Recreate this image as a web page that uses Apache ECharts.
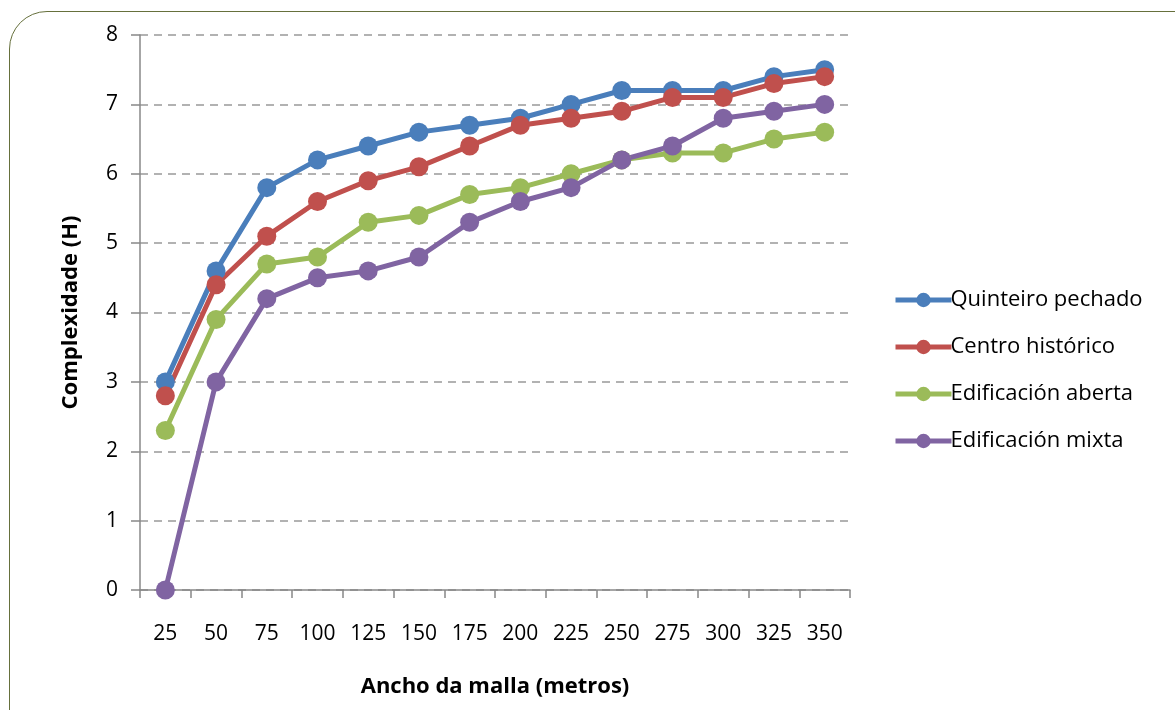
<!DOCTYPE html>
<html><head><meta charset="utf-8">
<script src="https://cdn.jsdelivr.net/npm/echarts@6/dist/echarts.min.js"></script>
<style>
html,body{margin:0;padding:0;background:#fff;overflow:hidden;}
#frame{position:absolute;left:9px;top:11px;width:1300px;height:900px;border:1.5px solid #66703c;border-top-left-radius:38px;box-sizing:border-box;}
#c{position:absolute;left:0;top:0;width:1175px;height:710px;}
</style></head>
<body>
<div id="frame"></div>
<div id="c"></div>
<script>
const categories = ['25','50','75','100','125','150','175','200','225','250','275','300','325','350'];
const seriesNames = ['Quinteiro pechado','Centro histórico','Edificación aberta','Edificación mixta'];
const quinteiro = [3.0,4.6,5.8,6.2,6.4,6.6,6.7,6.8,7.0,7.2,7.2,7.2,7.4,7.5];
const centro = [2.8,4.4,5.1,5.6,5.9,6.1,6.4,6.7,6.8,6.9,7.1,7.1,7.3,7.4];
const aberta = [2.3,3.9,4.7,4.8,5.3,5.4,5.7,5.8,6.0,6.2,6.3,6.3,6.5,6.6];
const mixta = [0,3.0,4.2,4.5,4.6,4.8,5.3,5.6,5.8,6.2,6.4,6.8,6.9,7.0];
const yTicks = [0,1,2,3,4,5,6,7,8];
const colors = ['#4a7ebb','#c0504d','#9bbb59','#8064a2'];
const dataSets = [quinteiro, centro, aberta, mixta];
const font = '"Open Sans", sans-serif';

const chart = echarts.init(document.getElementById('c'));
chart.setOption({
  animation:false,
  color: colors,
  grid:{left:140,right:325,top:35,bottom:120,containLabel:false},
  legend:{
    orient:'vertical', left:888, top:284, itemGap:25, itemWidth:56, itemHeight:18,
    lineStyle:{width:5},
    textStyle:{fontFamily:font,fontSize:22,color:'#000',padding:[0,0,0,-6]},
    data: seriesNames
  },
  xAxis:{
    type:'category', data:categories, boundaryGap:true,
    axisLine:{lineStyle:{color:'#888',width:1.5}},
    axisTick:{show:true,length:8,lineStyle:{color:'#888',width:1.5}},
    axisLabel:{fontFamily:font,fontSize:21,color:'#000',margin:34},
    name:'Ancho da malla (metros)', nameLocation:'middle', nameGap:86,
    nameTextStyle:{fontFamily:font,fontSize:22,fontWeight:'bold',color:'#000'}
  },
  yAxis:{
    type:'value', min:yTicks[0], max:yTicks[yTicks.length-1], interval:1,
    axisLine:{show:true,lineStyle:{color:'#888',width:1.5}},
    axisTick:{show:true,inside:false,length:9,lineStyle:{color:'#888',width:1.5}},
    axisLabel:{fontFamily:font,fontSize:21,color:'#000',margin:22},
    splitLine:{show:true,lineStyle:{color:'#999',type:[8,6],width:1.5}},
    name:'Complexidade (H)', nameLocation:'middle', nameGap:58,
    nameTextStyle:{fontFamily:font,fontSize:22,fontWeight:'bold',color:'#000'}
  },
  series: dataSets.map((d,i)=>({
    name: seriesNames[i], type:'line', data:d,
    symbol:'circle', symbolSize:19,
    lineStyle:{width:5,color:colors[i]},
    itemStyle:{color:colors[i]}
  }))
});
</script>
</body></html>
